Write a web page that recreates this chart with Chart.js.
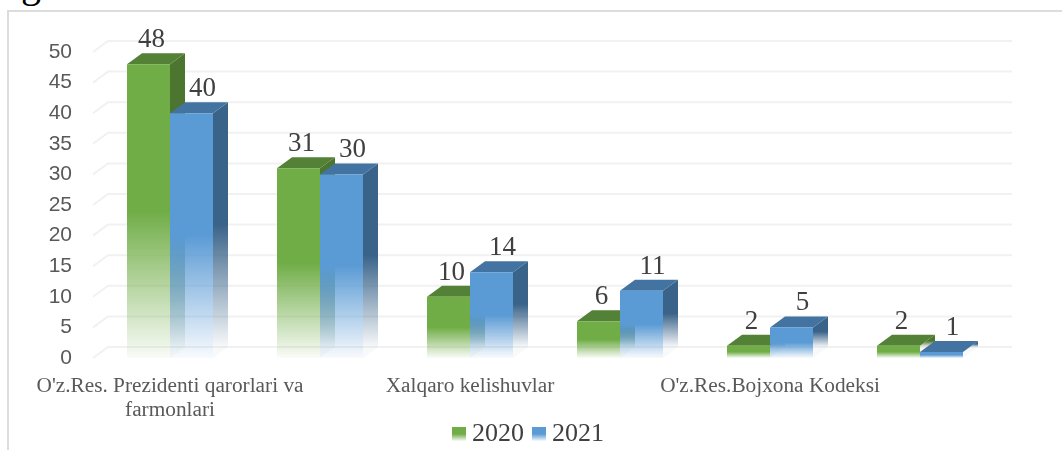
<!DOCTYPE html>
<html><head><meta charset="utf-8">
<style>
html,body{margin:0;padding:0;background:#fff;overflow:hidden}
#frame{position:absolute;left:7px;top:10px;width:1060px;height:445px;border:2px solid #dcdcdc;box-sizing:border-box}
#frag{position:absolute;left:21px;top:-40px;font:40px 'Liberation Serif',serif;color:#000}
#wrap{position:absolute;left:0;top:0;width:1062px;height:450px}
</style>
<script src="https://cdn.jsdelivr.net/npm/chart.js@4/dist/chart.umd.min.js"></script>
</head><body>
<div id="frag">g</div>
<div id="frame"></div>
<div id="wrap"><canvas id="c" width="1062" height="450"></canvas></div>
<script>
const categories = [["O'z.Res. Prezidenti qarorlari va","farmonlari"],"","Xalqaro kelishuvlar","","O'z.Res.Bojxona Kodeksi",""];
const seriesNames = ["2020","2021"];
const values2020 = [48,31,10,6,2,2];
const values2021 = [40,30,14,11,5,1];
const yTicks = [0,5,10,15,20,25,30,35,40,45,50];

const palette = [
  {rgb:'112,173,71', side:'76,117,48', top:'83,129,53', labelShift:3},
  {rgb:'91,155,213', side:'58,99,137', top:'67,115,160', labelShift:11}
];
const DX = 15, DY = 11;

function fade(ctx, y0, y1, rgb){
  const g = ctx.createLinearGradient(0,y0,0,y1);
  g.addColorStop(0,`rgba(${rgb},1)`);
  g.addColorStop(0.5,`rgba(${rgb},1)`);
  g.addColorStop(1,`rgba(${rgb},0.04)`);
  return g;
}
function swatch(rgb){
  const s = document.createElement('canvas'); s.width = 14; s.height = 14;
  const x = s.getContext('2d');
  const g = x.createLinearGradient(0,0,0,14);
  g.addColorStop(0,`rgba(${rgb},1)`); g.addColorStop(0.5,`rgba(${rgb},1)`); g.addColorStop(1,`rgba(${rgb},0.05)`);
  x.fillStyle = g; x.fillRect(0,0,14,14);
  return s;
}
const frontFill = i => c => {
  const ch = c.chart, sy = ch.scales.y;
  const flat = `rgb(${palette[i].rgb})`;
  if (!sy || !c.parsed) return flat;
  const y0 = sy.getPixelForValue(c.parsed.y), y1 = sy.getPixelForValue(0);
  if (!isFinite(y0) || !isFinite(y1)) return flat;
  return fade(ch.ctx, y0, y1, palette[i].rgb);
};

const layoutTweak = {
  id:'layoutTweak',
  afterLayout(chart){
    chart.scales.x.bottom = chart.height;   // let the two-line category label show past the legend's top
    chart.legend.top -= 3;
    chart.legend.right = chart.width;       // centre the legend on the whole picture
  }
};
const wallGrid = {
  id:'wallGrid',
  beforeDatasetsDraw(chart){
    const {ctx, scales:{y}} = chart;
    const xs = chart.chartArea.left - 2, xe = chart.chartArea.right + 17;
    ctx.save();
    ctx.lineWidth = 2;
    yTicks.forEach(v=>{
      const p = y.getPixelForValue(v);
      ctx.strokeStyle = '#f1f1f1';
      ctx.beginPath(); ctx.moveTo(xs,p); ctx.lineTo(xs+DX,p-DY); ctx.lineTo(xe,p-DY); ctx.stroke();
    });
    ctx.restore();
  }
};
function drawExtrusion(chart,index,meta){
  const {ctx, scales:{y}} = chart, pal = palette[index];
  const base = y.getPixelForValue(0);
  ctx.save();
  meta.data.forEach(b=>{
    const x0 = b.x-b.width/2, x1 = b.x+b.width/2, t = b.y;
    ctx.fillStyle = fade(ctx,t-DY,base-DY,pal.side);
    ctx.beginPath(); ctx.moveTo(x1,t); ctx.lineTo(x1+DX,t-DY); ctx.lineTo(x1+DX,base-DY); ctx.lineTo(x1,base); ctx.closePath(); ctx.fill();
    ctx.fillStyle = `rgb(${pal.top})`;
    ctx.beginPath(); ctx.moveTo(x0,t); ctx.lineTo(x0+DX,t-DY); ctx.lineTo(x1+DX,t-DY); ctx.lineTo(x1,t); ctx.closePath(); ctx.fill();
  });
  ctx.restore();
}
const painter = {
  id:'painter',
  beforeDatasetsDraw(chart){
    // paint left to right so each later series overlaps the side face of the earlier one
    chart.data.datasets.forEach((ds,i)=>{
      const meta = chart.getDatasetMeta(i);
      drawExtrusion(chart,i,meta);
      meta.controller.draw();
    });
    return false;
  },
  afterDraw(chart){
    const {ctx} = chart;
    ctx.save();
    ctx.font = "27px 'Liberation Serif', serif";
    ctx.fillStyle = '#404040';
    ctx.textAlign = 'center'; ctx.textBaseline = 'alphabetic';
    chart.data.datasets.forEach((ds,i)=>{
      chart.getDatasetMeta(i).data.forEach((b,j)=>{
        ctx.fillText(String(ds.data[j]), b.x+palette[i].labelShift, b.y-DY-6);
      });
    });
    ctx.restore();
  }
};

new Chart(document.getElementById('c'),{
  type:'bar',
  data:{labels:categories,datasets:[
    {label:seriesNames[0],data:values2020,backgroundColor:frontFill(0),pointStyle:swatch(palette[0].rgb)},
    {label:seriesNames[1],data:values2021,backgroundColor:frontFill(1),pointStyle:swatch(palette[1].rgb)}
  ]},
  options:{
    responsive:false,animation:false,
    layout:{padding:{top:52,right:67,left:0,bottom:-10}},
    datasets:{bar:{categoryPercentage:86/150,barPercentage:1,borderWidth:0}},
    scales:{
      x:{
        grid:{display:false},border:{display:false},
        afterFit(s){s.height=52;},
        ticks:{autoSkip:false,maxRotation:0,minRotation:0,padding:8,color:'#595959',
          font:{family:"'Liberation Serif', serif",size:21.3,lineHeight:1.15}}
      },
      y:{
        min:0,max:50,
        afterBuildTicks(s){s.ticks=yTicks.map(v=>({value:v}));},
        grid:{display:false},border:{display:false},
        afterFit(s){s.width=95;},
        ticks:{padding:15,color:'#595959',font:{family:"'Liberation Sans', sans-serif",size:21}}
      }
    },
    plugins:{
      tooltip:{enabled:false},
      legend:{position:'bottom',labels:{usePointStyle:true,pointStyleWidth:1,padding:14,color:'#404040',
        font:{family:"'Liberation Serif', serif",size:26}}}
    }
  },
  plugins:[layoutTweak,wallGrid,painter]
});
</script>
</body></html>
